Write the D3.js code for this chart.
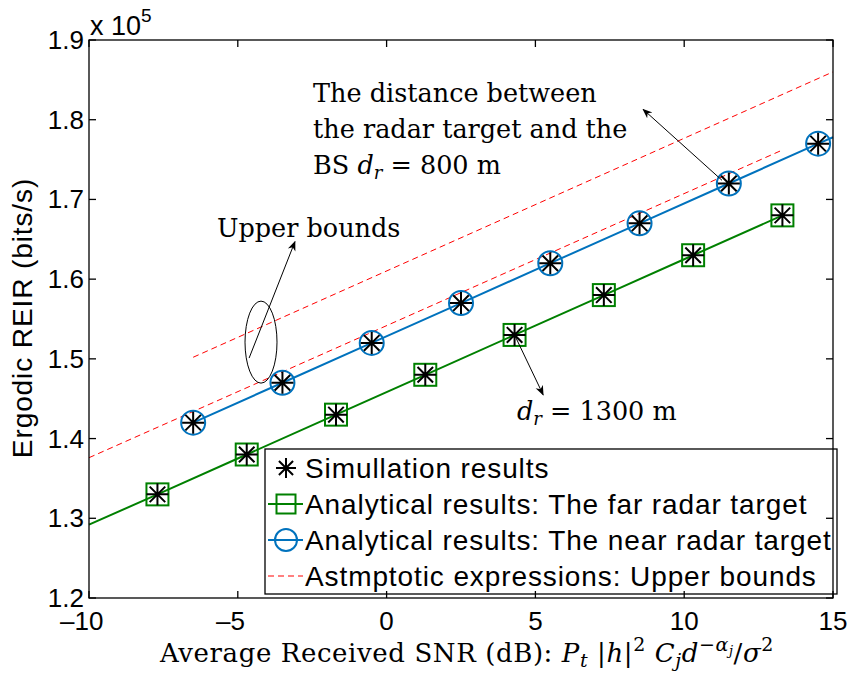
<!DOCTYPE html>
<html>
<head>
<meta charset="utf-8">
<script src="https://cdn.jsdelivr.net/npm/d3@7"></script>
<style>
  body { margin: 0; background: #fff; }
  svg { display: block; }
</style>
</head>
<body>
<svg id="chart" width="852" height="675"></svg>
<script>
// Simulation / analytical sample points (SNR in dB, ergodic REIR in bits/s)
const snrNear  = [-6.5, -3.5, -0.5, 2.5, 5.5, 8.5, 11.5, 14.5];
const reirNear = [142000, 147000, 152000, 157000, 162000, 167000, 172000, 177000];
const snrFar   = [-7.7, -4.7, -1.7, 1.3, 4.3, 7.3, 10.3, 13.3];
const reirFar  = [133000, 138000, 143000, 148000, 153000, 158000, 163000, 168000];

// Analytical curves (same points plus the curve ends)
const curveNearSnr  = [-6.5, -3.5, -0.5, 2.5, 5.5, 8.5, 11.5, 14.5, 15];
const curveNearReir = [142000, 147000, 152000, 157000, 162000, 167000, 172000, 177000, 177800];
const curveFarSnr   = [-10, -7.7, -4.7, -1.7, 1.3, 4.3, 7.3, 10.3, 13.3];
const curveFarReir  = [129200, 133000, 138000, 143000, 148000, 153000, 158000, 163000, 168000];

// Asymptotic upper bounds
const boundNearSnr  = [-6.5, 15];
const boundNearReir = [150200, 186000];
const boundFarSnr   = [-10, 13.3];
const boundFarReir  = [137600, 176200];

const xTicks = [-10, -5, 0, 5, 10, 15];
const yTicks = [120000, 130000, 140000, 150000, 160000, 170000, 180000, 190000];

const legendLabels = [
  "Simullation results",
  "Analytical results: The far radar target",
  "Analytical results: The near radar target",
  "Astmptotic expressions: Upper bounds"
];

const BLUE = "#0072BD", GREEN = "#008000", RED = "#FF0000";
const SANS = "'Liberation Sans', Arial, Helvetica, sans-serif";
const SERIF = "'DejaVu Serif', 'Liberation Serif', serif";

const svg = d3.select("#chart");
const M = { left: 89, right: 833, top: 40, bottom: 598 };
const x = d3.scaleLinear().domain([-10, 15]).range([M.left, M.right]);
const y = d3.scaleLinear().domain([120000, 190000]).range([M.bottom, M.top]);

svg.append("defs").append("marker")
  .attr("id", "arrow").attr("viewBox", "0 0 10 10")
  .attr("refX", 9).attr("refY", 5)
  .attr("markerWidth", 10).attr("markerHeight", 10)
  .attr("markerUnits", "userSpaceOnUse")
  .attr("orient", "auto")
  .append("path").attr("d", "M0,1 L10,5 L0,9 L3,5 Z").attr("fill", "#000");

svg.append("rect").attr("x", M.left).attr("y", M.top)
  .attr("width", M.right - M.left).attr("height", M.bottom - M.top)
  .attr("fill", "#fff");

const plot = svg.append("g");
const line = (xs, ys) => d3.line().x((d, i) => x(xs[i])).y((d, i) => y(ys[i]))(xs);

// upper bounds
plot.append("path").attr("d", line(boundNearSnr, boundNearReir))
  .attr("fill", "none").attr("stroke", RED).attr("stroke-width", 1)
  .attr("stroke-dasharray", "6,4");
plot.append("path").attr("d", line(boundFarSnr, boundFarReir))
  .attr("fill", "none").attr("stroke", RED).attr("stroke-width", 1)
  .attr("stroke-dasharray", "6,4");

// analytical curves
plot.append("path").attr("d", line(curveFarSnr, curveFarReir))
  .attr("fill", "none").attr("stroke", GREEN).attr("stroke-width", 2);
plot.append("path").attr("d", line(curveNearSnr, curveNearReir))
  .attr("fill", "none").attr("stroke", BLUE).attr("stroke-width", 2);

function star(g, cx, cy, r) {
  const a = r * Math.SQRT1_2;
  g.append("path")
    .attr("d", `M${cx - r},${cy}H${cx + r}M${cx},${cy - r}V${cy + r}` +
               `M${cx - a},${cy - a}L${cx + a},${cy + a}M${cx - a},${cy + a}L${cx + a},${cy - a}`)
    .attr("stroke", "#000").attr("stroke-width", 2).attr("fill", "none");
}
function square(g, cx, cy, s) {
  g.append("rect").attr("x", cx - s / 2).attr("y", cy - s / 2)
    .attr("width", s).attr("height", s)
    .attr("fill", "none").attr("stroke", GREEN).attr("stroke-width", 2);
}
function circle(g, cx, cy, r) {
  g.append("circle").attr("cx", cx).attr("cy", cy).attr("r", r)
    .attr("fill", "none").attr("stroke", BLUE).attr("stroke-width", 2);
}

snrFar.forEach((s, i) => square(plot, x(s), y(reirFar[i]), 22));
snrNear.forEach((s, i) => circle(plot, x(s), y(reirNear[i]), 12));
snrFar.forEach((s, i) => star(plot, x(s), y(reirFar[i]), 11));
snrNear.forEach((s, i) => star(plot, x(s), y(reirNear[i]), 11));

// annotations
const ann = svg.append("g").attr("font-family", SERIF).attr("font-size", 25.5).attr("fill", "#000");
function dr(t, rest) {
  t.append("tspan").attr("font-style", "italic").text("d");
  t.append("tspan").attr("font-style", "italic").attr("font-size", 18).attr("dy", 5).text("r");
  t.append("tspan").attr("dy", -5).text(rest);
}
const t1 = ann.append("text").attr("x", x(-2.47)).attr("y", y(182200));
t1.append("tspan").attr("x", x(-2.47)).text("The distance between");
t1.append("tspan").attr("x", x(-2.47)).attr("dy", 36).text("the radar target and the");
t1.append("tspan").attr("x", x(-2.47)).attr("dy", 36).text("BS ");
dr(t1, " = 800 m");

ann.append("line")
  .attr("x1", x(11.27)).attr("y1", y(172400)).attr("x2", x(8.62)).attr("y2", y(181300))
  .attr("stroke", "#000").attr("stroke-width", 1).attr("marker-end", "url(#arrow)");

ann.append("text").attr("x", x(-5.70)).attr("y", y(165300)).text("Upper bounds");
ann.append("line")
  .attr("x1", x(-4.62)).attr("y1", y(150100)).attr("x2", x(-3.08)).attr("y2", y(164700))
  .attr("stroke", "#000").attr("stroke-width", 1).attr("marker-end", "url(#arrow)");
ann.append("ellipse")
  .attr("cx", x(-4.22)).attr("cy", y(152100)).attr("rx", 16).attr("ry", 41)
  .attr("fill", "none").attr("stroke", "#000").attr("stroke-width", 1);

const t2 = ann.append("text").attr("x", x(4.38)).attr("y", y(142300));
dr(t2, " = 1300 m");
ann.append("line")
  .attr("x1", x(4.3)).attr("y1", y(153000)).attr("x2", x(5.26)).attr("y2", y(145500))
  .attr("stroke", "#000").attr("stroke-width", 1).attr("marker-end", "url(#arrow)");

// legend
const lg = svg.append("g");
const LB = { x: 265, y: 449, w: 572, h: 145 };
lg.append("rect").attr("x", LB.x).attr("y", LB.y).attr("width", LB.w).attr("height", LB.h)
  .attr("fill", "#fff").attr("stroke", "#000").attr("stroke-width", 1.3);
const rowY = [468, 504, 540, 576];
const sx = 286, lx1 = 268, lx2 = 303;
star(lg, sx, rowY[0], 10);
lg.append("line").attr("x1", lx1).attr("x2", lx2).attr("y1", rowY[1]).attr("y2", rowY[1])
  .attr("stroke", GREEN).attr("stroke-width", 2);
square(lg, sx, rowY[1], 19);
lg.append("line").attr("x1", lx1).attr("x2", lx2).attr("y1", rowY[2]).attr("y2", rowY[2])
  .attr("stroke", BLUE).attr("stroke-width", 2);
circle(lg, sx, rowY[2], 11);
lg.append("line").attr("x1", lx1).attr("x2", lx2).attr("y1", rowY[3]).attr("y2", rowY[3])
  .attr("stroke", RED).attr("stroke-width", 1).attr("stroke-dasharray", "6,4");
lg.selectAll("text.leg").data(legendLabels).join("text")
  .attr("class", "leg")
  .attr("x", 305).attr("y", (d, i) => rowY[i] + 10)
  .attr("font-family", SANS).attr("font-size", 28).attr("letter-spacing", 0.9)
  .text(d => d);

// axes (inward ticks on all four sides, box frame)
const tickLen = 7;
const ax = svg.append("g").attr("stroke", "#000").attr("stroke-width", 1.3);
ax.append("rect").attr("x", M.left).attr("y", M.top)
  .attr("width", M.right - M.left).attr("height", M.bottom - M.top).attr("fill", "none");
xTicks.forEach(t => {
  ax.append("line").attr("x1", x(t)).attr("x2", x(t)).attr("y1", M.bottom).attr("y2", M.bottom - tickLen);
  ax.append("line").attr("x1", x(t)).attr("x2", x(t)).attr("y1", M.top).attr("y2", M.top + tickLen);
});
yTicks.forEach(t => {
  ax.append("line").attr("y1", y(t)).attr("y2", y(t)).attr("x1", M.left).attr("x2", M.left + tickLen);
  ax.append("line").attr("y1", y(t)).attr("y2", y(t)).attr("x1", M.right).attr("x2", M.right - tickLen);
});

// x tick labels: digits centred on the tick, minus sign hanging to the left
const xtg = svg.append("g").attr("font-family", SANS).attr("font-size", 26);
xTicks.forEach(t => {
  const digits = xtg.append("text").attr("x", x(t)).attr("y", M.bottom + 32)
    .attr("text-anchor", "middle").text(String(Math.abs(t)));
  if (t < 0) {
    const w = digits.node().getComputedTextLength();
    xtg.append("text").attr("x", x(t) - w / 2).attr("y", M.bottom + 32)
      .attr("text-anchor", "end").text("\u2013");
  }
});
svg.append("g").selectAll("text").data(yTicks).join("text")
  .attr("x", M.left - 5).attr("y", d => y(d) + 9)
  .attr("text-anchor", "end").attr("font-family", SANS).attr("font-size", 26)
  .text(d => (d / 1e5).toFixed(1));

// exponent label
const ex = svg.append("text").attr("x", 90).attr("y", 35)
  .attr("font-family", SANS).attr("font-size", 27);
ex.append("tspan").text("x 10");
ex.append("tspan").attr("font-size", 19).attr("dy", -13).text("5");

// axis titles
svg.append("text")
  .attr("transform", `translate(32,${(M.top + M.bottom) / 2 - 1}) rotate(-90)`)
  .attr("text-anchor", "middle").attr("font-family", SANS).attr("font-size", 28)
  .attr("letter-spacing", 0.9)
  .text("Ergodic REIR (bits/s)");

const xl = svg.append("text").attr("x", 467).attr("y", 662).attr("text-anchor", "middle")
  .attr("font-family", SERIF).attr("font-size", 26).attr("letter-spacing", 0.6);
xl.append("tspan").text("Average Received SNR (dB): ");
xl.append("tspan").attr("font-style", "italic").text("P");
xl.append("tspan").attr("font-style", "italic").attr("font-size", 19).attr("dy", 5).text("t");
xl.append("tspan").attr("dy", -5).text(" |");
xl.append("tspan").attr("font-style", "italic").text("h");
xl.append("tspan").text("|");
xl.append("tspan").attr("font-size", 19).attr("dy", -11).text("2");
xl.append("tspan").attr("dy", 11).attr("font-style", "italic").text(" C");
xl.append("tspan").attr("font-style", "italic").attr("font-size", 19).attr("dy", 5).text("j");
xl.append("tspan").attr("dy", -5).attr("font-style", "italic").text("d");
xl.append("tspan").attr("font-size", 19).attr("dy", -11).text("\u2212");
xl.append("tspan").attr("font-size", 19).attr("font-style", "italic").text("\u03b1");
xl.append("tspan").attr("font-size", 13).attr("font-style", "italic").attr("dy", 4).text("j");
xl.append("tspan").attr("dy", 7).text("/");
xl.append("tspan").attr("font-style", "italic").text("\u03c3");
xl.append("tspan").attr("font-size", 19).attr("dy", -11).text("2");
</script>
</body>
</html>
